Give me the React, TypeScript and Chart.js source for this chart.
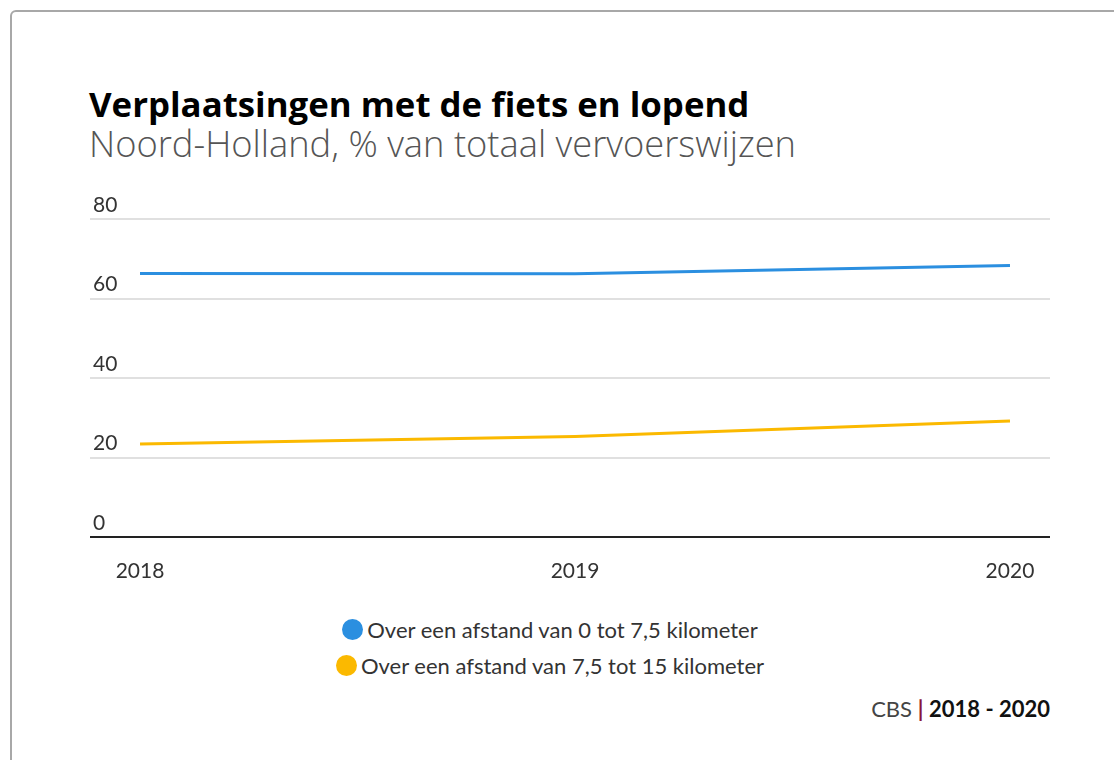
import React, { useEffect, useRef } from "react";
import { Chart, registerables } from "chart.js";

Chart.register(...registerables);

const YEARS = [2018, 2019, 2020];
const SERIES_NAMES = [
  "Over een afstand van 0 tot 7,5 kilometer",
  "Over een afstand van 7,5 tot 15 kilometer",
];
const SHORT_DISTANCE = [66.3, 66.2, 68.3];
const MEDIUM_DISTANCE = [23.4, 25.3, 29.2];
const Y_TICKS = [0, 20, 40, 60, 80];
const COLORS = ["#2b8fe0", "#fbb900"];

const TITLE = "Verplaatsingen met de fiets en lopend";
const SUBTITLE = "Noord-Holland, % van totaal vervoerswijzen";
const FONT = "Lato, 'Source Sans Pro', sans-serif";
const HEAD_FONT = "'Open Sans', Lato, sans-serif";

export default function App() {
  const ref = useRef<HTMLCanvasElement | null>(null);

  useEffect(() => {
    document.body.style.margin = "0";
    const ctx = ref.current!;
    const seriesValues = [SHORT_DISTANCE, MEDIUM_DISTANCE];
    const chart = new Chart(ctx, {
      type: "line",
      data: {
        datasets: SERIES_NAMES.map((name, i) => ({
          label: name,
          data: YEARS.map((y, j) => ({ x: y, y: seriesValues[i][j] })),
          borderColor: COLORS[i],
          backgroundColor: COLORS[i],
          borderWidth: 3,
          pointRadius: 0,
          tension: 0,
        })),
      },
      options: {
        animation: false,
        responsive: false,
        maintainAspectRatio: false,
        layout: { padding: { top: 39, left: 90, right: 64, bottom: 0 } },
        plugins: { legend: { display: false }, tooltip: { enabled: false } },
        scales: {
          x: {
            type: "linear",
            min: 2017.885,
            max: 2020.092,
            afterBuildTicks: (scale: any) => {
              scale.ticks = YEARS.map((v) => ({ value: v }));
            },
            afterFit: (scale: any) => {
              scale.height = 53;
            },
            grid: { display: false, drawTicks: false },
            border: { display: false },
            ticks: {
              padding: 22,
              maxRotation: 0,
              autoSkip: false,
              color: "#333",
              font: { family: FONT, size: 21 },
              callback: (v: any) => String(v),
            },
          },
          y: {
            min: 0,
            max: 80,
            afterBuildTicks: (scale: any) => {
              scale.ticks = Y_TICKS.map((v) => ({ value: v }));
            },
            afterFit: (scale: any) => {
              scale.width = 0;
            },
            border: { display: false },
            grid: {
              drawTicks: false,
              lineWidth: 2,
              color: (c: any) => (c.tick && c.tick.value === 0 ? "#222" : "#e0e0e0"),
            },
            ticks: {
              mirror: true,
              padding: 3,
              labelOffset: -14,
              color: "#333",
              font: { family: FONT, size: 21 },
            },
          },
        },
      },
    });
    return () => chart.destroy();
  }, []);

  return (
    <div
      style={{
        position: "absolute",
        left: 0,
        top: 0,
        width: 1114,
        height: 760,
        overflow: "hidden",
        background: "#fff",
        fontFamily: FONT,
      }}
    >
      <div
        style={{
          position: "absolute",
          left: 10,
          top: 10,
          width: 1200,
          height: 900,
          border: "2px solid #a8a8a8",
          borderRadius: 6,
          boxSizing: "border-box",
        }}
      />
      <div
        style={{
          position: "absolute",
          left: 89,
          top: 80,
          fontFamily: HEAD_FONT,
          fontSize: 34.8,
          fontWeight: 700,
          color: "#000",
          lineHeight: "47px",
          whiteSpace: "nowrap",
        }}
      >
        {TITLE}
      </div>
      <div
        style={{
          position: "absolute",
          left: 89,
          top: 119,
          fontFamily: HEAD_FONT,
          fontSize: 36.3,
          fontWeight: 300,
          color: "#555",
          lineHeight: "49px",
          whiteSpace: "nowrap",
        }}
      >
        {SUBTITLE}
      </div>
      <canvas
        ref={ref}
        width={1114}
        height={410}
        style={{ position: "absolute", left: 0, top: 180, width: 1114, height: 410 }}
      />
      <div
        style={{
          position: "absolute",
          left: 0,
          width: 1100,
          top: 616,
          display: "flex",
          flexDirection: "column",
          alignItems: "center",
          gap: 9,
          fontSize: 22,
          color: "#333",
        }}
      >
        {SERIES_NAMES.map((name, i) => (
          <div key={name} style={{ display: "flex", alignItems: "center", lineHeight: "27px" }}>
            <span
              style={{
                display: "inline-block",
                width: 21,
                height: 21,
                borderRadius: "50%",
                background: COLORS[i],
                marginRight: 4,
              }}
            />
            <span>{name}</span>
          </div>
        ))}
      </div>
      <div
        style={{
          position: "absolute",
          right: 1114 - 1050,
          top: 695,
          fontSize: 22,
          color: "#444",
          whiteSpace: "nowrap",
          lineHeight: "28px",
        }}
      >
        CBS <span style={{ color: "#8a1538", fontWeight: 700 }}>|</span>{" "}
        <span style={{ color: "#111", fontWeight: 700 }}>2018 - 2020</span>
      </div>
    </div>
  );
}
